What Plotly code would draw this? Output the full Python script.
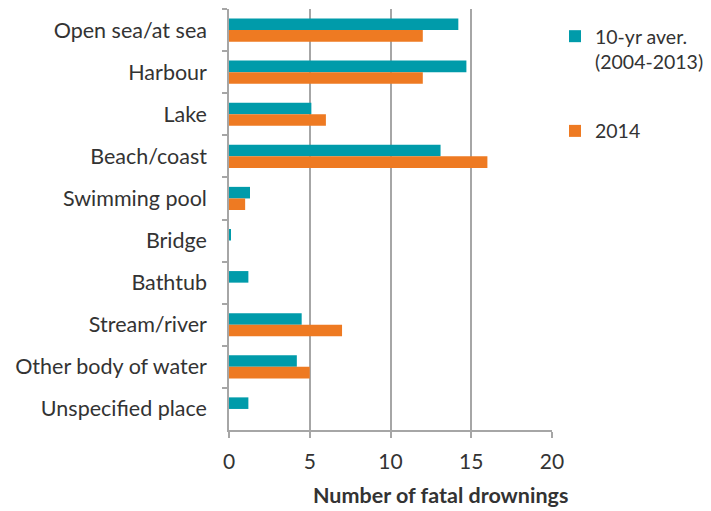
import plotly.graph_objects as go

categories = ["Open sea/at sea", "Harbour", "Lake", "Beach/coast", "Swimming pool",
              "Bridge", "Bathtub", "Stream/river", "Other body of water", "Unspecified place"]
avg_10yr = [14.2, 14.7, 5.1, 13.1, 1.3, 0.1, 1.2, 4.5, 4.2, 1.2]
y2014 = [12, 12, 6, 16, 1, 0, 0, 7, 5, 0]
series_names = ["10-yr aver.<br>(2004-2013)", "2014"]
x_ticks = [0, 5, 10, 15, 20]
x_title = "Number of fatal drownings"

TEAL = "#009BAA"
ORANGE = "#EE7A22"
FONT = "Lato"
TXT = "#333333"
GRID = "#A6A6A6"

# page body has an 8px margin, so the figure is offset by (8, 8)
OFF = 8
W, H = 711 - OFF, 511 - OFF
PL, PR, PT, PB = 229 - OFF, 552 - OFF, 9 - OFF, 430 - OFF
plot_h = PB - PT
plot_w = PR - PL

fig = go.Figure()
fig.add_trace(go.Bar(y=categories, x=avg_10yr, orientation="h", name=series_names[0],
                     legendgroup="a", marker=dict(color=TEAL, line=dict(width=0))))
fig.add_trace(go.Bar(y=categories, x=y2014, orientation="h", name=series_names[1],
                     legendgroup="b", marker=dict(color=ORANGE, line=dict(width=0))))

fig.update_layout(
    width=W, height=H,
    margin=dict(l=PL, r=W - PR, t=PT, b=H - PB, autoexpand=False),
    paper_bgcolor="white", plot_bgcolor="white",
    barmode="group", bargap=0.45, bargroupgap=0,
    font=dict(family=FONT, size=21, color=TXT),
    showlegend=True,
    legend=dict(x=1 + (555 - 552) / plot_w, y=1 - 8 / plot_h, xanchor="left", yanchor="top",
                font=dict(family=FONT, size=19.5, color=TXT),
                valign="top", tracegroupgap=41, itemwidth=30,
                bgcolor="rgba(0,0,0,0)"),
    annotations=[dict(text="<b>" + x_title + "</b>",
                      x=(440 - 229) / plot_w, y=(430 - 495) / plot_h,
                      xref="paper", yref="paper", showarrow=False,
                      xanchor="center", yanchor="middle",
                      font=dict(family=FONT, size=21.5, color=TXT))],
)

fig.update_xaxes(range=[0, 20], tickvals=x_ticks, showgrid=True, gridcolor=GRID,
                 gridwidth=1.5, showline=True, linecolor=GRID, linewidth=1.5,
                 ticks="outside", ticklen=6, tickcolor=GRID, tickwidth=1.5,
                 ticklabelstandoff=6,
                 zeroline=False, automargin=False, tickfont=dict(size=21, color=TXT))
fig.update_yaxes(autorange="reversed", showgrid=False, showline=True, linecolor=GRID,
                 linewidth=1.5, ticks="outside", tickson="boundaries", ticklen=5,
                 tickcolor=GRID, tickwidth=1.5, automargin=False,
                 ticklabelstandoff=16,
                 tickfont=dict(size=21.5, color=TXT))

fig.write_html("out.html")
